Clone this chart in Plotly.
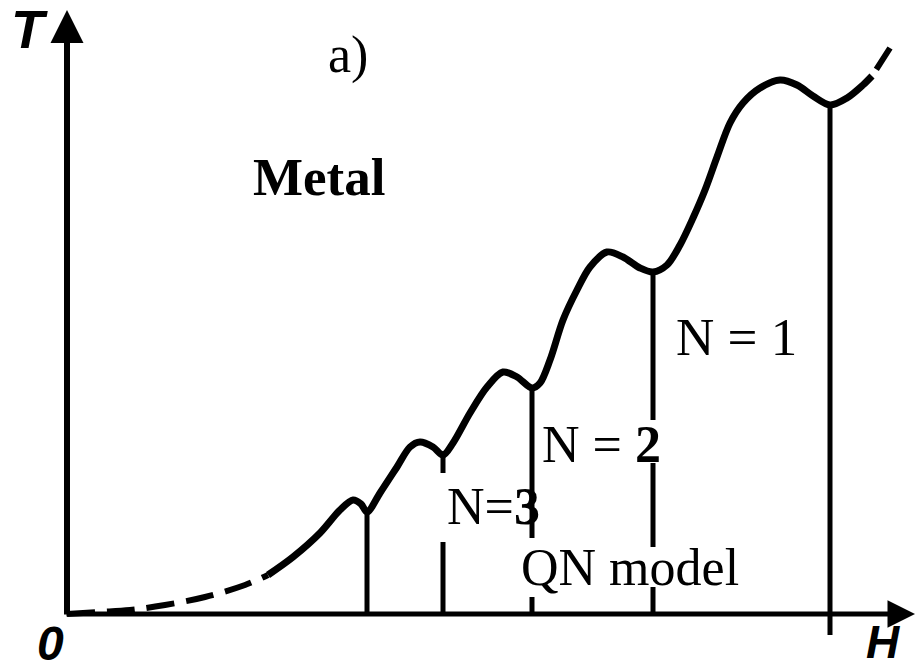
import plotly.graph_objects as go

# Field H (horizontal) and transition temperature T (vertical), schematic units
H_low = [0, 33, 63, 98, 138, 178, 201]
T_low = [0, 2, 4, 9, 17, 29, 39]

H_curve = [201, 226, 253, 273, 286, 294, 300, 313, 330, 343, 353, 366, 376, 386,
           403, 420, 436, 450, 465, 473, 483, 496, 510, 523, 540, 556, 573, 586,
           600, 613, 626, 638, 650, 663, 676, 693, 713, 730, 746, 763, 780, 796, 805]
T_curve = [39, 57, 81, 104, 114, 110, 102, 121, 147, 167, 172, 167, 159, 171,
           201, 227, 242, 237, 226, 231, 254, 294, 324, 347, 362, 357, 346, 342,
           349, 369, 396, 424, 457, 491, 511, 526, 534, 529, 518, 509, 516, 529, 538]

H_tail = [805, 823]
T_tail = [538, 566]

# where each drop line is interrupted by a label (T ranges) and how far it reaches below the axis
drop_breaks = [[], [(72, 141)], [(17, 76)], [(151, 194), (27, 67)], []]
drop_bottom = [0, 0, 0, 0, -21]

INK = "#000000"
SERIF = "Liberation Serif, Times New Roman, serif"
SANS = "Liberation Sans Narrow, Liberation Sans, Arial, sans-serif"

fig = go.Figure()

fig.add_trace(go.Scatter(x=H_low, y=T_low, mode="lines",
                         line=dict(color=INK, width=6, dash="28px,12px", shape="spline"),
                         hoverinfo="skip"))
fig.add_trace(go.Scatter(x=H_curve, y=T_curve, mode="lines",
                         line=dict(color=INK, width=7, shape="spline", smoothing=0.9),
                         hoverinfo="skip"))
fig.add_trace(go.Scatter(x=H_tail, y=T_tail, mode="lines",
                         line=dict(color=INK, width=6, dash="0px,8px,26px,60px"),
                         hoverinfo="skip"))

# local minima of the curve: the N-transitions, each dropped to the H axis
minima = [i for i in range(1, len(T_curve) - 1)
          if T_curve[i] < T_curve[i - 1] and T_curve[i] < T_curve[i + 1]]
xs, ys = [], []
for k, i in enumerate(minima):
    h, top = H_curve[i], T_curve[i]
    cuts = sorted(drop_breaks[k], key=lambda b: -b[1])
    start = top
    for lo, hi in cuts:
        xs += [h, h, None]
        ys += [start, hi, None]
        start = lo
    xs += [h, h, None]
    ys += [start, drop_bottom[k], None]
fig.add_trace(go.Scatter(x=xs, y=ys, mode="lines",
                         line=dict(color=INK, width=5), hoverinfo="skip"))

# coordinate axes with arrow heads
fig.add_annotation(x=0, y=604, ax=0, ay=-2, xref="x", yref="y", axref="x", ayref="y",
                   text="", showarrow=True, arrowhead=2, arrowsize=1.1, arrowwidth=6,
                   arrowcolor=INK, standoff=0)
fig.add_annotation(x=848, y=0, ax=-2, ay=0, xref="x", yref="y", axref="x", ayref="y",
                   text="", showarrow=True, arrowhead=2, arrowsize=1.1, arrowwidth=5,
                   arrowcolor=INK, standoff=0)

def label(x, y, text, size, family=SERIF, weight="normal", style="normal"):
    fig.add_annotation(x=x, y=y, xref="x", yref="y", text=text, showarrow=False,
                       xanchor="center", yanchor="middle",
                       font=dict(family=family, size=size, color=INK,
                                 weight=weight, style=style))

label(-38, 585, "T", 54, SANS, "bold", "italic")
label(-17, -29, "0", 48, SANS, "bold", "italic")
label(816, -28, "H", 46, SANS, "bold", "italic")
label(281, 559, "a)", 52)
label(252, 437, "Metal", 53, weight="bold")
label(669, 277, "N = 1", 53)
label(534, 170, "N = <b>2</b>", 52)
label(426, 108, "N=<b>3</b>", 52)
label(563, 47, "QN model", 52)

fig.update_layout(
    width=917, height=671,
    margin=dict(l=0, r=0, t=0, b=0),
    paper_bgcolor="white", plot_bgcolor="white",
    showlegend=False,
    xaxis=dict(range=[-67, 850], visible=False, fixedrange=True),
    yaxis=dict(range=[-57, 614], visible=False, fixedrange=True),
)

fig.write_html("out.html")
